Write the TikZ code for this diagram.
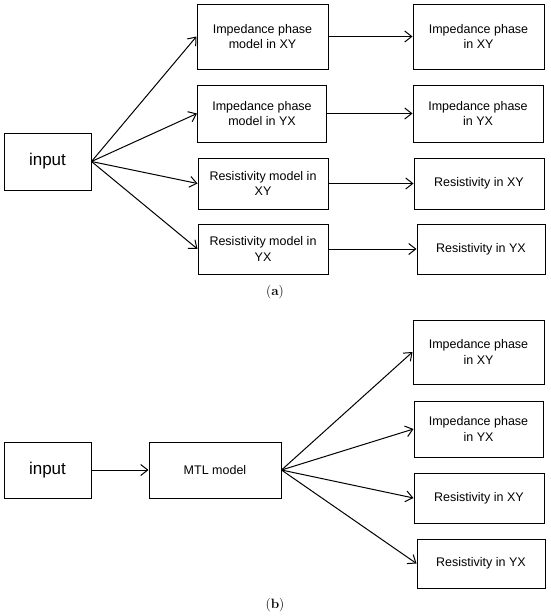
\documentclass[tikz,border=0pt]{standalone}
\usepackage{fontspec}
\newfontfamily\boxfont{Liberation Sans}
\usetikzlibrary{arrows.meta}
\tikzset{
  box/.style  = {draw, line width=1pt, align=center, inner sep=2pt,
                 font=\boxfont\fontsize{12.5}{15.3}\selectfont},
  inbox/.style = {box, font=\boxfont\fontsize{17}{20}\selectfont},
  arr/.style  = {line width=1pt, -{Straight Barb[length=7pt,width=11pt,line width=1pt]}},
  capt/.style = {font=\fontsize{13.5}{16}\selectfont},
}

\begin{document}
\begin{tikzpicture}[x=1pt,y=-1pt]
  \useasboundingbox (0,0) rectangle (550,616);
  % (a) one model per output
  \node[inbox,minimum width=87pt,minimum height=57pt] (ina) at (47.5,161.5) {input};
  \node[box,minimum width=131pt,minimum height=65pt] (a1) at (262.5,36.5) {Impedance phase\\model in XY};
  \node[box,minimum width=129pt,minimum height=57pt] (a2) at (262,113.5) {Impedance phase\\model in YX};
  \node[box,minimum width=130pt,minimum height=51pt] (a3) at (263,183.5) {Resistivity model in\\XY};
  \node[box,minimum width=130pt,minimum height=50pt] (a4) at (263,249) {Resistivity model in\\YX};
  \node[box,minimum width=131pt,minimum height=65pt] (ra1) at (478.5,36.5) {Impedance phase\\in XY};
  \node[box,minimum width=130pt,minimum height=57pt] (ra2) at (478,113.5) {Impedance phase\\in YX};
  \node[box,minimum width=130pt,minimum height=51pt] (ra3) at (479,183.5) {Resistivity in XY};
  \node[box,minimum width=128pt,minimum height=50pt] (ra4) at (481,249) {Resistivity in YX};
  \foreach \i in {1,2,3,4}{
    \draw[arr] (ina.east) -- (a\i.west);
    \draw[arr] (a\i.east) -- (ra\i.west);}
  \node[capt] (capa) at (275,292) {(\textbf{a})};
  % (b) one MTL model
  \node[inbox,minimum width=87pt,minimum height=56pt] (inb) at (47.5,470) {input};
  \node[box,minimum width=132pt,minimum height=56pt] (mtl) at (215,470) {MTL model};
  \node[box,minimum width=131pt,minimum height=64pt] (rb1) at (478.5,352) {Impedance phase\\in XY};
  \node[box,minimum width=129pt,minimum height=56pt] (rb2) at (478.5,429) {Impedance phase\\in YX};
  \node[box,minimum width=130pt,minimum height=50pt] (rb3) at (479,498) {Resistivity in XY};
  \node[box,minimum width=128pt,minimum height=49pt] (rb4) at (481,563.5) {Resistivity in YX};
  \draw[arr] (inb.east) -- (mtl.west);
  \foreach \i in {1,2,3,4}{
    \draw[arr] (mtl.east) -- (rb\i.west);}
  \node[capt] (capb) at (275,605) {(\textbf{b})};
\end{tikzpicture}
\end{document}
